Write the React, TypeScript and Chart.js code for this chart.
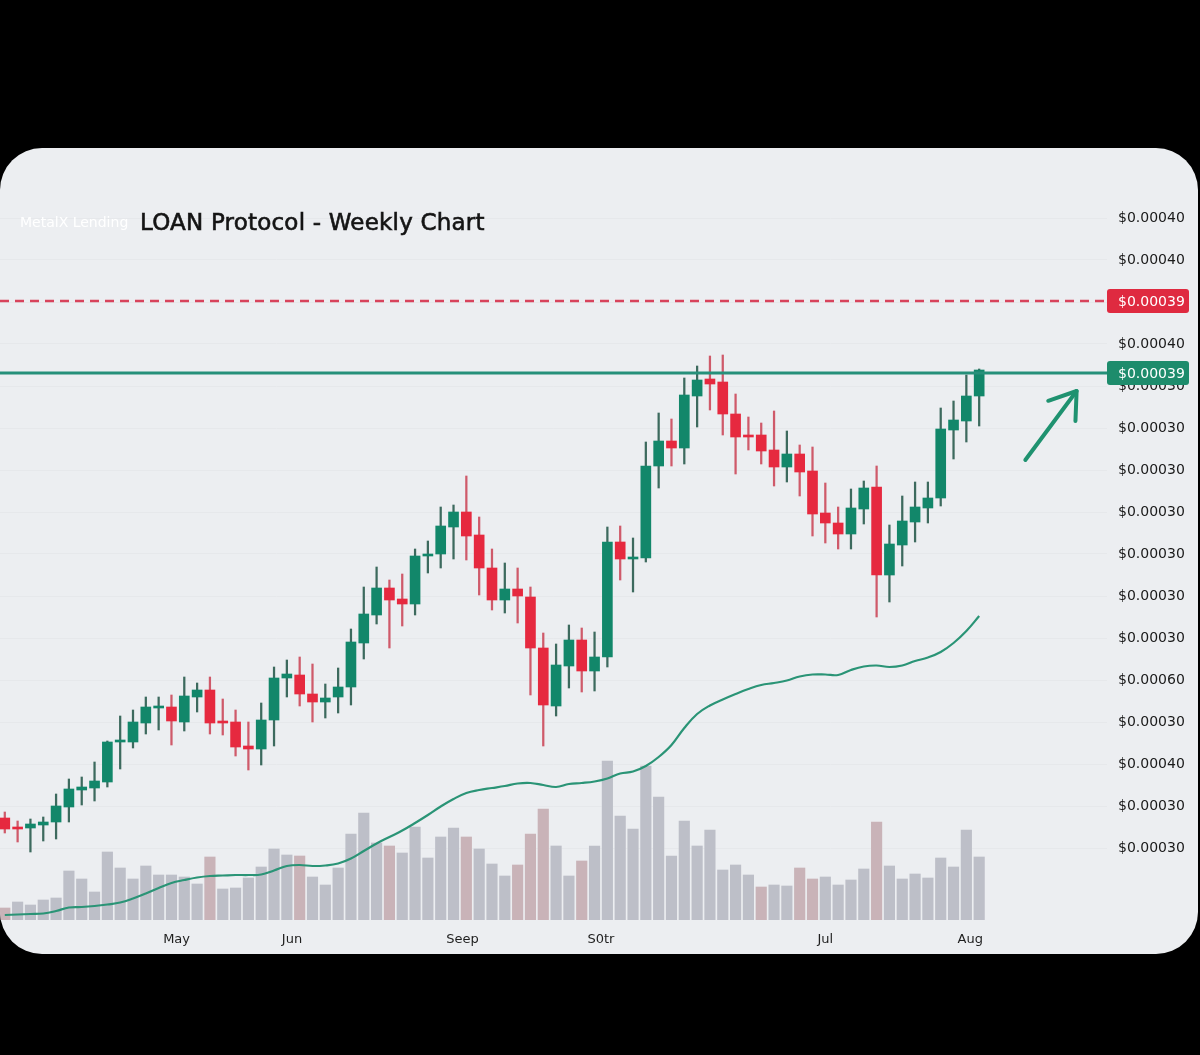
import React, { useEffect, useRef } from "react";
import { Chart, registerables } from "chart.js";

Chart.register(...registerables);

// ---- Data (price in chart units, volume in chart units) ----
const opens = [
  102, 92, 92, 95, 98, 113, 130, 132, 138, 178,
  178, 197, 212, 213, 198, 223, 230, 199, 198, 174,
  171, 200, 242, 245, 226, 218, 223, 233, 277, 305,
  332, 321, 316, 364, 366, 393, 408, 385, 352, 320,
  331, 323, 272, 214, 254, 280, 249, 263, 378, 361,
  362, 454, 479, 472, 524, 541, 538, 506, 485, 485,
  470, 453, 466, 449, 407, 397, 386, 411, 433, 345,
  375, 398, 412, 422, 490, 499, 524,
];
const highs = [
  108, 99, 101, 103, 126, 141, 143, 158, 179, 204,
  210, 223, 223, 225, 243, 237, 243, 221, 210, 198,
  217, 253, 260, 263, 256, 236, 252, 291, 333, 353,
  340, 346, 371, 379, 413, 415, 444, 403, 371, 357,
  352, 333, 287, 276, 295, 292, 288, 393, 394, 382,
  478, 507, 501, 542, 554, 564, 565, 526, 503, 497,
  509, 489, 475, 473, 437, 413, 431, 439, 454, 395,
  424, 438, 438, 512, 519, 545, 551,
];
const lows = [
  87, 78, 68, 79, 81, 98, 115, 119, 133, 151,
  172, 186, 190, 175, 189, 208, 186, 185, 164, 150,
  155, 174, 223, 214, 198, 202, 207, 215, 261, 296,
  272, 294, 305, 347, 352, 361, 360, 325, 310, 307,
  297, 225, 174, 204, 232, 228, 229, 253, 340, 328,
  358, 432, 454, 456, 493, 510, 485, 446, 470, 456,
  434, 438, 424, 384, 377, 371, 371, 396, 303, 318,
  354, 378, 397, 414, 461, 478, 494,
];
const closes = [
  91, 91, 96, 98, 114, 131, 133, 139, 178, 180,
  198, 213, 213, 199, 224, 230, 197, 197, 173, 171,
  200, 242, 246, 226, 218, 222, 233, 278, 306, 332,
  320, 316, 364, 366, 394, 408, 384, 352, 320, 331,
  324, 272, 215, 255, 280, 249, 263, 378, 361, 363,
  454, 479, 472, 525, 540, 536, 506, 483, 483, 469,
  453, 466, 448, 406, 397, 386, 412, 432, 345, 376,
  399, 413, 422, 491, 500, 524, 550,
];
const volumes = [
  12, 18, 15, 20, 22, 49, 41, 28, 68, 52,
  41, 54, 45, 45, 43, 36, 63, 31, 32, 42,
  53, 71, 65, 64, 43, 35, 52, 86, 107, 77,
  74, 67, 93, 62, 83, 92, 83, 71, 56, 44,
  55, 86, 111, 74, 44, 59, 74, 159, 104, 91,
  154, 123, 64, 99, 74, 90, 50, 55, 45, 33,
  35, 34, 52, 41, 43, 35, 40, 51, 98, 54,
  41, 46, 42, 62, 53, 90, 63,
];
// weeks whose volume bar is sell-dominated (tinted)
const sellVolumeWeeks = [0, 16, 23, 30, 36, 40, 41, 42, 45, 59, 62, 63, 68];
const movingAverage = [
  5, 5.5, 6, 6.5, 9, 12.5, 13, 14, 15.5, 17.5,
  21.5, 26.5, 32, 37, 40, 42.5, 44, 44.5, 45, 45,
  45.5, 49.5, 54, 55, 54, 54.5, 56.5, 61.5, 69, 76.5,
  83, 89.5, 97, 105, 113.5, 121, 127, 130, 132, 134,
  136.5, 137, 135, 133, 136, 137, 138.5, 141.5, 146.5, 148.5,
  154, 163, 175, 192, 206, 214.5, 220.5, 226, 231, 235,
  237, 239.5, 243.5, 245.5, 245.5, 245, 250, 253.5, 254.5, 253,
  254.5, 259, 262.5, 268, 277, 289, 304,
];

const priceTickValues = [702, 660, 618, 576, 534, 492, 450, 408, 366, 324, 282, 240, 198, 156, 114, 72];
const priceTickLabels = [
  "$0.00040", "$0.00040", "$0.00039", "$0.00040", "$0.00030", "$0.00030",
  "$0.00030", "$0.00030", "$0.00030", "$0.00030", "$0.00030", "$0.00060",
  "$0.00030", "$0.00040", "$0.00030", "$0.00030",
];
const weekTickValues = [13.4, 22.4, 35.7, 46.5, 64, 75.3];
const weekTickLabels = ["May", "Jun", "Seep", "S0tr", "Jul", "Aug"];

const targetLevel = 619;
const targetLabel = "$0.00039";
const resistanceLevel = 547;
const resistanceLabel = "$0.00039";
const arrowStart = { x: 79.6, y: 460 };
const arrowEnd = { x: 83.6, y: 529 };

const GREEN = "#12876a";
const RED = "#e6293f";
const FONT = "'DejaVu Sans', Verdana, sans-serif";

const levelsPlugin = {
  id: "levels",
  afterDatasetsDraw(chart: any) {
    const { ctx, chartArea, scales } = chart;
    const y = scales.y;
    ctx.save();
    const ty = y.getPixelForValue(targetLevel);
    ctx.strokeStyle = "#d8435c";
    ctx.lineWidth = 2.5;
    ctx.setLineDash([9, 6]);
    ctx.beginPath();
    ctx.moveTo(chartArea.left, ty);
    ctx.lineTo(chartArea.right, ty);
    ctx.stroke();
    const ry = y.getPixelForValue(resistanceLevel);
    ctx.setLineDash([]);
    ctx.strokeStyle = "#26907a";
    ctx.lineWidth = 3;
    ctx.beginPath();
    ctx.moveTo(chartArea.left, ry);
    ctx.lineTo(chartArea.right, ry);
    ctx.stroke();
    ctx.restore();
  },
  afterDraw(chart: any) {
    const { ctx, chartArea, scales } = chart;
    const y = scales.y;
    const x = scales.x;
    ctx.save();
    const badge = (level: number, text: string, color: string) => {
      const cy = y.getPixelForValue(level);
      const left = chartArea.right;
      const w = 82;
      const h = 24;
      ctx.fillStyle = color;
      ctx.beginPath();
      (ctx as any).roundRect(left, cy - h / 2, w, h, 3);
      ctx.fill();
      ctx.fillStyle = "#ffffff";
      ctx.font = `14px ${FONT}`;
      ctx.textAlign = "left";
      ctx.textBaseline = "middle";
      ctx.fillText(text, left + 11, cy + 1);
    };
    badge(targetLevel, targetLabel, "#df2a40");
    badge(resistanceLevel, resistanceLabel, "#1d8c6c");

    const x1 = x.getPixelForValue(arrowStart.x);
    const y1 = y.getPixelForValue(arrowStart.y);
    const x2 = x.getPixelForValue(arrowEnd.x);
    const y2 = y.getPixelForValue(arrowEnd.y);
    const ang = Math.atan2(y2 - y1, x2 - x1);
    const head = 30;
    ctx.strokeStyle = "#1f9270";
    ctx.lineWidth = 4;
    ctx.lineCap = "round";
    ctx.lineJoin = "round";
    ctx.beginPath();
    ctx.moveTo(x1, y1);
    ctx.lineTo(x2, y2);
    ctx.stroke();
    ctx.beginPath();
    ctx.moveTo(x2 + head * Math.cos(ang + Math.PI - 0.6), y2 + head * Math.sin(ang + Math.PI - 0.6));
    ctx.lineTo(x2, y2);
    ctx.lineTo(x2 + head * Math.cos(ang + Math.PI + 0.6), y2 + head * Math.sin(ang + Math.PI + 0.6));
    ctx.stroke();
    ctx.restore();
  },
};

export default function App() {
  const canvasRef = useRef<HTMLCanvasElement | null>(null);

  useEffect(() => {
    document.body.style.margin = "0";
    document.body.style.background = "#000";
    const canvas = canvasRef.current;
    if (!canvas) return;

    const idx = opens.map((_, i) => i);
    const isUp = (i: number) => closes[i] >= opens[i];

    const chart = new Chart(canvas, {
      data: {
        datasets: [
          {
            type: "bar",
            label: "Body",
            data: idx.map((i) => ({ x: i, y: [opens[i], closes[i]] })) as any,
            backgroundColor: idx.map((i) => (isUp(i) ? GREEN : RED)),
            barThickness: 10,
            minBarLength: 2,
            grouped: false,
            yAxisID: "y",
            order: 0,
          } as any,
          {
            type: "bar",
            label: "Wick",
            data: idx.map((i) => ({ x: i, y: [lows[i], highs[i]] })) as any,
            backgroundColor: idx.map((i) => (isUp(i) ? "#3d6a5e" : "#cf5a6a")),
            barThickness: 1.6,
            grouped: false,
            yAxisID: "y",
            order: 1,
          } as any,
          {
            type: "line",
            label: "MA",
            data: idx.map((i) => ({ x: i, y: movingAverage[i] })),
            borderColor: "#2a9476",
            borderWidth: 2.2,
            pointRadius: 0,
            tension: 0.4,
            yAxisID: "y",
            order: 2,
          } as any,
          {
            type: "bar",
            label: "Volume",
            data: idx.map((i) => ({ x: i, y: volumes[i] })) as any,
            backgroundColor: idx.map((i) => (sellVolumeWeeks.includes(i) ? "#c9b3b8" : "#bdbfc8")),
            barThickness: 10.5,
            grouped: false,
            yAxisID: "yVol",
            order: 3,
          } as any,
        ],
      },
      options: {
        animation: false,
        responsive: false,
        devicePixelRatio: 1,
        layout: { autoPadding: false, padding: { top: 12, left: 0, right: 0, bottom: 0 } },
        plugins: {
          legend: { display: false },
          tooltip: { enabled: false },
          title: { display: false },
        },
        scales: {
          x: {
            type: "linear",
            min: -0.374,
            max: 85.97,
            offset: false,
            grid: { display: false, drawTicks: false },
            border: { display: false },
            afterBuildTicks: (scale: any) => {
              scale.ticks = weekTickValues.map((v) => ({ value: v }));
            },
            afterFit: (scale: any) => {
              scale.height = 34;
              scale.paddingLeft = 0;
              scale.paddingRight = 0;
            },
            ticks: {
              autoSkip: false,
              maxRotation: 0,
              padding: 12,
              color: "#1e1e1e",
              font: { family: FONT, size: 13 },
              callback: (_v: any, i: number) => weekTickLabels[i],
            },
          },
          y: {
            type: "linear",
            position: "right",
            min: 0,
            max: 760,
            grid: { display: true, color: "rgba(0,0,0,0.025)", drawTicks: false },
            border: { display: false },
            afterBuildTicks: (scale: any) => {
              scale.ticks = priceTickValues.map((v) => ({ value: v }));
            },
            afterFit: (scale: any) => {
              scale.width = 91;
              scale.paddingTop = 0;
              scale.paddingBottom = 0;
            },
            ticks: {
              padding: 11,
              color: "#1a1a1a",
              font: { family: FONT, size: 14 },
              callback: (_v: any, i: number) => priceTickLabels[i],
            },
          },
          yVol: {
            type: "linear",
            display: false,
            min: 0,
            max: 760,
          },
        },
      } as any,
      plugins: [levelsPlugin],
    });

    return () => chart.destroy();
  }, []);

  return (
    <div style={{ position: "relative", width: 1200, height: 1055, background: "#000", overflow: "hidden" }}>
      <div
        style={{
          position: "absolute",
          left: 0,
          top: 148,
          width: 1198,
          height: 806,
          borderRadius: 42,
          background: "#eceef1",
          overflow: "hidden",
        }}
      >
        <canvas
          ref={canvasRef}
          width={1198}
          height={806}
          style={{ position: "absolute", left: 0, top: 0, width: 1198, height: 806 }}
        />
        <div
          style={{
            position: "absolute",
            left: 20,
            top: 61,
            lineHeight: "26px",
            fontFamily: FONT,
            fontSize: 14,
            color: "#ffffff",
            whiteSpace: "nowrap",
          }}
        >
          MetalX Lending
        </div>
        <div
          style={{
            position: "absolute",
            left: 140,
            top: 59,
            lineHeight: "30px",
            fontFamily: FONT,
            fontSize: 23,
            letterSpacing: 0.2,
            color: "#141414",
            WebkitTextStroke: "0.6px #141414",
            whiteSpace: "nowrap",
          }}
        >
          LOAN Protocol - Weekly Chart
        </div>
      </div>
    </div>
  );
}
